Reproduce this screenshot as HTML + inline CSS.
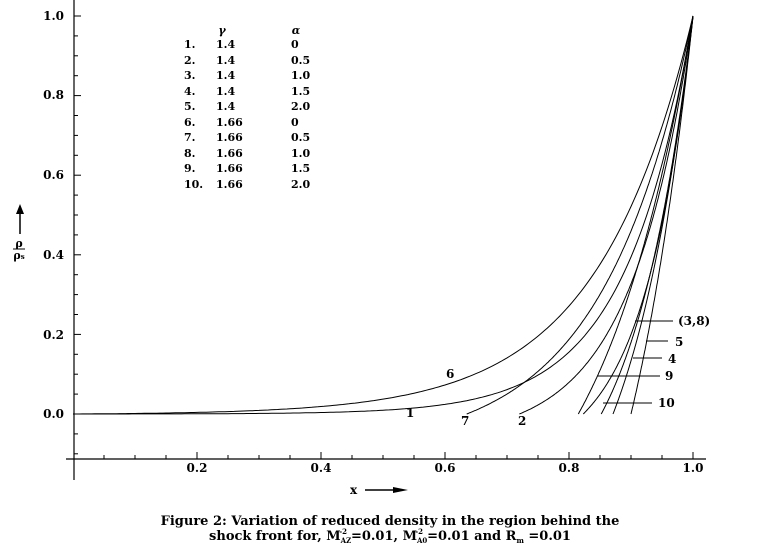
<!DOCTYPE html>
<html><head><meta charset="utf-8"><style>
html,body{margin:0;padding:0;background:#fff;width:777px;height:551px;overflow:hidden}
svg text{font-family:"DejaVu Serif","Liberation Serif",serif;font-weight:bold;fill:#000}
</style></head><body>
<svg id="s" width="777" height="551" viewBox="0 0 777 551" xmlns="http://www.w3.org/2000/svg">
<g stroke="#000" stroke-width="1.2" fill="none">
<line x1="74" y1="0" x2="74" y2="480"/>
<line x1="66" y1="459" x2="706" y2="459"/>
</g>
<g id="ticks" stroke="#000" stroke-width="1"></g>
<g id="curves" stroke="#000" stroke-width="1" fill="none"></g>
<g font-size="12">
<text x="64" y="20" text-anchor="end">1.0</text>
<text x="64" y="99" text-anchor="end">0.8</text>
<text x="64" y="179" text-anchor="end">0.6</text>
<text x="64" y="259" text-anchor="end">0.4</text>
<text x="64" y="339" text-anchor="end">0.2</text>
<text x="64" y="418" text-anchor="end">0.0</text>
<text x="197" y="472" text-anchor="middle">0.2</text>
<text x="321" y="472" text-anchor="middle">0.4</text>
<text x="445" y="472" text-anchor="middle">0.6</text>
<text x="569" y="472" text-anchor="middle">0.8</text>
<text x="693" y="472" text-anchor="middle">1.0</text>
</g>
<g font-size="11">
<text x="222" y="34" text-anchor="middle" font-style="italic">γ</text>
<text x="296" y="34" text-anchor="middle" font-style="italic">α</text>
<g id="leg"></g>
</g>
<g font-size="12">
<text x="446" y="378">6</text>
<text x="406" y="417">1</text>
<text x="461" y="425">7</text>
<text x="518" y="425">2</text>
<text x="678" y="325">(3,8)</text>
<text x="675" y="346">5</text>
<text x="668" y="363">4</text>
<text x="665" y="380">9</text>
<text x="658" y="407">10</text>
<text x="350" y="494">x</text>
</g>
<g stroke="#000" stroke-width="1">
<line x1="635" y1="321" x2="673" y2="321"/>
<line x1="646" y1="341" x2="668" y2="341"/>
<line x1="633" y1="358" x2="662" y2="358"/>
<line x1="597" y1="376" x2="660" y2="376"/>
<line x1="603" y1="403" x2="652" y2="403"/>
<line x1="365" y1="490" x2="395" y2="490" stroke-width="1.5"/>
<line x1="20" y1="234" x2="20" y2="212" stroke-width="1.5"/>
<line x1="13" y1="249" x2="25" y2="249"/>
</g>
<polygon points="393,487 408,490 393,493" fill="#000"/>
<polygon points="16,214 20,204 24,214" fill="#000"/>
<text x="19" y="247" font-size="11" text-anchor="middle">ρ</text>
<text x="19" y="259" font-size="11" text-anchor="middle">ρ<tspan font-size="7">s</tspan></text>
<g font-size="13" text-anchor="middle">
<text x="390" y="525">Figure 2: Variation of reduced density in the region behind the</text>
<text x="390" y="540">shock front for, M<tspan font-size="7" dy="3">AZ</tspan><tspan font-size="7" dy="-9" dx="-12">-2</tspan><tspan dy="6" dx="4">=0.01, M</tspan><tspan font-size="7" dy="3">A0</tspan><tspan font-size="7" dy="-9" dx="-12">-2</tspan><tspan dy="6" dx="4">=0.01 and R</tspan><tspan font-size="7" dy="3">m</tspan><tspan dy="-3"> =0.01</tspan></text>
</g>
</svg>
<script>
function X(x){return 73+620*x} function Y(v){return 414-398*v}
var t=document.getElementById("ticks"),h="";
for(var i=1;i<=20;i++){var x=X(i*0.05);h+='<line x1="'+x+'" y1="459" x2="'+x+'" y2="'+(i%4==0?452:455)+'"/>';}
for(var i=-2;i<=20;i++){var y=Y(i*0.05);h+='<line x1="74" y1="'+y+'" x2="'+(i%4==0?81:78)+'" y2="'+y+'"/>';}
t.innerHTML=h;
var g="";
function curve(x0,k){var pts=[];for(var n=0;n<=200;n++){var tt=n/200;var x=x0+(1-x0)*tt;var v=(Math.exp(k*tt)-1)/(Math.exp(k)-1);pts.push(X(x).toFixed(1)+","+Y(v).toFixed(1));}if(x0==0)pts.unshift("74,414");return '<polyline points="'+pts.join(" ")+'"/>';}
[[0,9.3],[0,6.5],[0.635,2.5],[0.72,2.8],[0.815,1.2],[0.823,2.2],[0.852,1.5],[0.871,1.2],[0.9,0.8]].forEach(function(c){g+=curve(c[0],c[1]);});
document.getElementById("curves").innerHTML=g;
var L=[["1.","1.4","0"],["2.","1.4","0.5"],["3.","1.4","1.0"],["4.","1.4","1.5"],["5.","1.4","2.0"],["6.","1.66","0"],["7.","1.66","0.5"],["8.","1.66","1.0"],["9.","1.66","1.5"],["10.","1.66","2.0"]];
var ys=[48,64,79,95,110,126,141,157,172,188],s="";
L.forEach(function(r,i){s+='<text x="184" y="'+ys[i]+'">'+r[0]+'</text><text x="216" y="'+ys[i]+'">'+r[1]+'</text><text x="291" y="'+ys[i]+'">'+r[2]+'</text>';});
document.getElementById("leg").innerHTML=s;
</script>
</body></html>
